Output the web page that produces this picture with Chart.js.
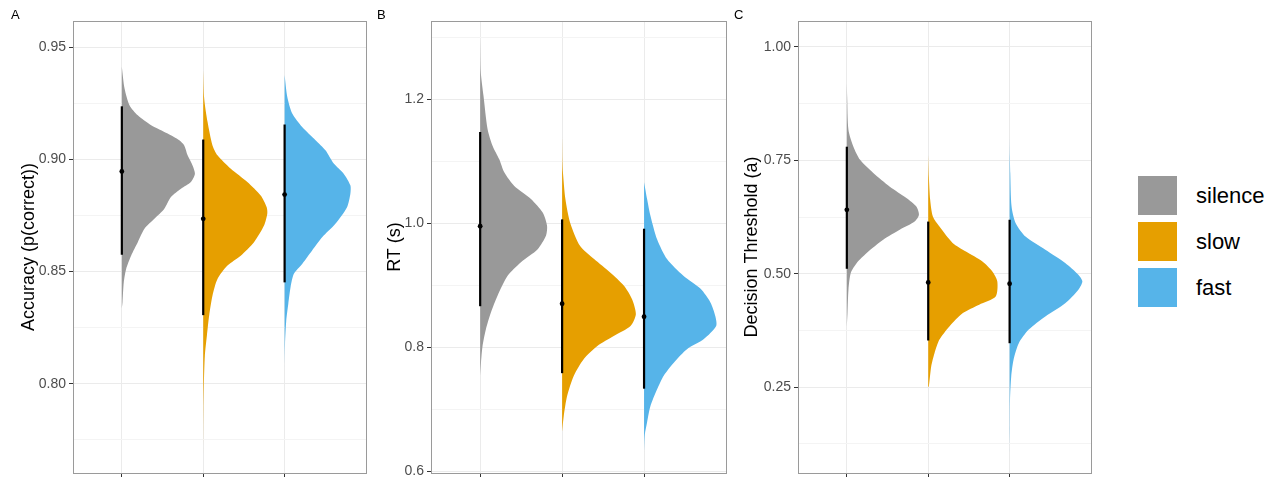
<!DOCTYPE html>
<html lang="en">
<head>
<meta charset="UTF-8" />
<title>Accuracy, RT and decision threshold by condition</title>
<script src="https://cdn.jsdelivr.net/npm/chart.js"></script>
<style>
  body { margin: 0; background: #fff; font-family: 'Liberation Sans', Arial, sans-serif; }
  .page { position: relative; width: 1281px; height: 477px; overflow: hidden; }
  canvas { position: absolute; top: 0; }
  .tag { position: absolute; top: 7px; font-size: 13px; line-height: 15px; color: #000; }
  .legend { position: absolute; left: 1138px; top: 176px; }
  .legend-item { display: flex; align-items: center; height: 39px; margin-bottom: 7px; }
  .legend-item span.box { width: 39px; height: 39px; }
  .legend-item span.text { margin-left: 19px; font-size: 22px; color: #000; }
</style>
</head>
<body>
<div class="page">
  <canvas id="panelA" width="370" height="477" style="left:0"></canvas>
  <canvas id="panelB" width="360" height="477" style="left:370px"></canvas>
  <canvas id="panelC" width="365" height="477" style="left:730px"></canvas>
  <div class="tag" style="left:11px">A</div>
  <div class="tag" style="left:377px">B</div>
  <div class="tag" style="left:734px">C</div>
  <div class="legend" id="legend"></div>
</div>

<script>
  // conditions + colours
  const conditions = ['silence', 'slow', 'fast'];
  const colors = ['#999999', '#E69F00', '#56B4E9'];

  // Panel A - accuracy. violin contours are [value, half width in category units]
  const accSilence = [[0.9412, 0], [0.9316, 0.033], [0.9241, 0.094], [0.9196, 0.196], [0.9152, 0.36],
    [0.9115, 0.563], [0.9085, 0.706], [0.9062, 0.767], [0.9018, 0.808], [0.8973, 0.869], [0.8936, 0.898],
    [0.8899, 0.849], [0.8869, 0.727], [0.8832, 0.604], [0.878, 0.522], [0.8735, 0.40], [0.8691, 0.278],
    [0.8631, 0.196], [0.8571, 0.114], [0.8512, 0.053], [0.8452, 0.024], [0.8363, 0.008], [0.8335, 0]];
  const accSlow = [[0.9397, 0], [0.9271, 0.012], [0.9167, 0.053], [0.9062, 0.114], [0.9018, 0.175],
    [0.8958, 0.339], [0.8899, 0.542], [0.8839, 0.706], [0.8787, 0.78], [0.8758, 0.787], [0.8705, 0.747],
    [0.8631, 0.624], [0.8571, 0.461], [0.8527, 0.298], [0.8467, 0.175], [0.8393, 0.114], [0.8304, 0.073],
    [0.8214, 0.045], [0.8125, 0.02], [0.7998, 0.008], [0.7893, 0.003], [0.7685, 0]];
  const accFast = [[0.9375, 0], [0.9278, 0.033], [0.9204, 0.094], [0.9144, 0.216], [0.9085, 0.38],
    [0.904, 0.502], [0.8981, 0.604], [0.8936, 0.726], [0.8884, 0.808], [0.8847, 0.808], [0.8787, 0.767],
    [0.8713, 0.624], [0.8653, 0.461], [0.8594, 0.338], [0.8534, 0.216], [0.849, 0.114], [0.843, 0.073],
    [0.8356, 0.045], [0.8281, 0.02], [0.8177, 0.005], [0.8073, 0]];
  const accMean = [0.8946, 0.8735, 0.8843];
  const accLow = [0.8575, 0.8306, 0.8452];
  const accHigh = [0.9236, 0.9088, 0.9155];
  const accTicks = [0.80, 0.85, 0.90, 0.95];
  const accTickLabels = ['0.80', '0.85', '0.90', '0.95'];
  const accMinor = [0.775, 0.825, 0.875, 0.925];

  // Panel B - RT
  const rtSilence = [[1.297, 0], [1.243, 0.008], [1.205, 0.041], [1.152, 0.09], [1.125, 0.151],
    [1.103, 0.233], [1.082, 0.294], [1.06, 0.416], [1.039, 0.62], [1.017, 0.763], [0.996, 0.816],
    [0.98, 0.804], [0.958, 0.702], [0.937, 0.498], [0.915, 0.335], [0.883, 0.212], [0.856, 0.131],
    [0.829, 0.07], [0.802, 0.029], [0.775, 0.01], [0.754, 0]];
  const rtSlow = [[1.14, 0], [1.10, 0.004], [1.082, 0.01], [1.039, 0.04], [1.0, 0.10], [0.963, 0.22],
    [0.942, 0.39], [0.92, 0.59], [0.899, 0.755], [0.877, 0.855], [0.853, 0.90], [0.834, 0.835],
    [0.818, 0.63], [0.802, 0.43], [0.781, 0.265], [0.754, 0.143], [0.721, 0.061], [0.689, 0.02], [0.663, 0]];
  const rtFast = [[1.066, 0], [1.039, 0.037], [1.012, 0.078], [0.974, 0.159], [0.942, 0.28], [0.915, 0.48],
    [0.894, 0.69], [0.872, 0.81], [0.85, 0.87], [0.834, 0.88], [0.813, 0.73], [0.797, 0.527],
    [0.775, 0.363], [0.754, 0.24], [0.732, 0.159], [0.705, 0.078], [0.679, 0.037], [0.66, 0.01],
    [0.645, 0.003], [0.63, 0]];
  const rtMean = [0.995, 0.870, 0.849];
  const rtLow = [0.866, 0.758, 0.733];
  const rtHigh = [1.147, 1.006, 0.991];
  const rtTicks = [0.6, 0.8, 1.0, 1.2];
  const rtTickLabels = ['0.6', '0.8', '1.0', '1.2'];
  const rtMinor = [0.7, 0.9, 1.1, 1.3];

  // Panel C - decision threshold
  const thrSilence = [[0.92, 0], [0.89, 0.004], [0.817, 0.02], [0.78, 0.081], [0.751, 0.163], [0.722, 0.325],
    [0.692, 0.528], [0.667, 0.732], [0.648, 0.854], [0.63, 0.886], [0.615, 0.833], [0.597, 0.65],
    [0.575, 0.447], [0.546, 0.244], [0.524, 0.122], [0.502, 0.049], [0.465, 0.02], [0.413, 0.008], [0.384, 0]];
  const thrSlow = [[0.762, 0], [0.714, 0.008], [0.663, 0.024], [0.626, 0.057], [0.604, 0.138], [0.568, 0.30],
    [0.549, 0.463], [0.527, 0.666], [0.505, 0.788], [0.483, 0.849], [0.45, 0.829], [0.432, 0.626],
    [0.413, 0.422], [0.384, 0.26], [0.355, 0.138], [0.325, 0.077], [0.296, 0.037], [0.252, 0.008], [0.25, 0]];
  const thrFast = [[0.802, 0], [0.76, 0.003], [0.722, 0.008], [0.648, 0.024], [0.612, 0.073], [0.582, 0.195],
    [0.553, 0.439], [0.524, 0.683], [0.498, 0.845], [0.483, 0.894], [0.465, 0.845], [0.435, 0.683],
    [0.406, 0.439], [0.377, 0.235], [0.347, 0.113], [0.311, 0.049], [0.274, 0.02], [0.222, 0.005],
    [0.16, 0.003], [0.106, 0]];
  const thrMean = [0.641, 0.481, 0.478];
  const thrLow = [0.511, 0.353, 0.347];
  const thrHigh = [0.780, 0.615, 0.619];
  const thrTicks = [0.25, 0.50, 0.75, 1.00];
  const thrTickLabels = ['0.25', '0.50', '0.75', '1.00'];
  const thrMinor = [0.125, 0.375, 0.625, 0.875];

  const VIOLIN_SCALE = 1;
  const BORDER = '#9a9a9a';
  const GRID_MAJOR = '#ebebeb';
  const GRID_MINOR = '#f4f4f4';

  Chart.defaults.font.family = "'Liberation Sans', Arial, sans-serif";

  function tickIndex(list, v) {
    return list.findIndex(t => Math.abs(t - v) < 1e-9);
  }

  function makePanel(id, cfg) {
    const datasets = [];
    // error bars + means first so they sit on top
    conditions.forEach((name, i) => {
      datasets.push({
        data: [{ x: i + 1, y: cfg.low[i] }, { x: i + 1, y: cfg.high[i] }],
        showLine: true, borderColor: '#000', borderWidth: 2.2, pointRadius: 0, order: 0
      });
      datasets.push({
        data: [{ x: i + 1, y: cfg.mean[i] }],
        pointRadius: 2.4, backgroundColor: '#000', borderWidth: 0, order: 0
      });
    });
    conditions.forEach((name, i) => {
      datasets.push({
        label: name,
        data: cfg.violins[i].map(p => ({ x: i + 1 + p[1] * VIOLIN_SCALE, y: p[0] })),
        showLine: true, fill: 'shape', tension: 0.25,
        backgroundColor: colors[i], borderColor: 'rgba(0,0,0,0)', borderWidth: 0,
        pointRadius: 0, order: 1
      });
    });

    const allTicks = cfg.ticks.concat(cfg.minor).sort((a, b) => a - b);

    return new Chart(document.getElementById(id), {
      type: 'scatter',
      data: { datasets: datasets },
      options: {
        responsive: false,
        animation: false,
        events: [],
        layout: { padding: { left: cfg.padLeft, right: 0, top: 0, bottom: 0 } },
        plugins: { legend: { display: false }, tooltip: { enabled: false } },
        scales: {
          x: {
            type: 'linear', min: 0.4, max: 4.0,
            afterBuildTicks: s => { s.ticks = conditions.map((c, i) => ({ value: i + 1 })); },
            afterFit: s => { s.height = 4; s.paddingLeft = 0; s.paddingRight = 0; },
            ticks: { display: false },
            grid: { color: GRID_MAJOR, tickColor: '#333', tickLength: 4 },
            border: { color: BORDER }
          },
          y: {
            type: 'linear', min: cfg.min, max: cfg.max,
            afterBuildTicks: s => { s.ticks = allTicks.map(v => ({ value: v })); },
            afterFit: s => { s.width = cfg.axisWidth; s.paddingTop = 0; s.paddingBottom = 0; },
            ticks: {
              autoSkip: false, padding: 3, color: '#4d4d4d', font: { size: 14 },
              callback: v => {
                const k = tickIndex(cfg.ticks, v);
                return k >= 0 ? cfg.tickLabels[k] : '';
              }
            },
            grid: {
              tickLength: 4,
              color: c => (c.tick && tickIndex(cfg.ticks, c.tick.value) < 0) ? GRID_MINOR : GRID_MAJOR,
              tickColor: c => (c.tick && tickIndex(cfg.ticks, c.tick.value) >= 0) ? '#333' : 'rgba(0,0,0,0)'
            },
            border: { color: BORDER },
            title: { display: true, text: cfg.title, color: '#000', font: { size: 18 }, padding: 0 }
          },
          // top / right axes only give the panel its frame
          xTop: {
            type: 'linear', position: 'top', axis: 'x',
            ticks: { display: false },
            grid: { color: 'rgba(0,0,0,0)', drawTicks: false },
            border: { color: BORDER },
            afterFit: s => { s.height = 21; }
          },
          yRight: {
            type: 'linear', position: 'right', axis: 'y',
            ticks: { display: false },
            grid: { color: 'rgba(0,0,0,0)', drawTicks: false },
            border: { color: BORDER },
            afterFit: s => { s.width = cfg.rightWidth; }
          }
        }
      }
    });
  }

  makePanel('panelA', {
    title: 'Accuracy (p(correct))', min: 0.7603, max: 0.9616,
    violins: [accSilence, accSlow, accFast], mean: accMean, low: accLow, high: accHigh,
    ticks: accTicks, tickLabels: accTickLabels, minor: accMinor,
    padLeft: 18, axisWidth: 55, rightWidth: 3
  });
  makePanel('panelB', {
    title: 'RT (s)', min: 0.597, max: 1.326,
    violins: [rtSilence, rtSlow, rtFast], mean: rtMean, low: rtLow, high: rtHigh,
    ticks: rtTicks, tickLabels: rtTickLabels, minor: rtMinor,
    padLeft: 14, axisWidth: 47, rightWidth: 4
  });
  makePanel('panelC', {
    title: 'Decision Threshold (a)', min: 0.061, max: 1.057,
    violins: [thrSilence, thrSlow, thrFast], mean: thrMean, low: thrLow, high: thrHigh,
    ticks: thrTicks, tickLabels: thrTickLabels, minor: thrMinor,
    padLeft: 11, axisWidth: 57, rightWidth: 2
  });

  // legend
  const legend = document.getElementById('legend');
  conditions.forEach((name, i) => {
    const row = document.createElement('div');
    row.className = 'legend-item';
    row.innerHTML = '<span class="box" style="background:' + colors[i] + '"></span><span class="text">' + name + '</span>';
    legend.appendChild(row);
  });
</script>
</body>
</html>
